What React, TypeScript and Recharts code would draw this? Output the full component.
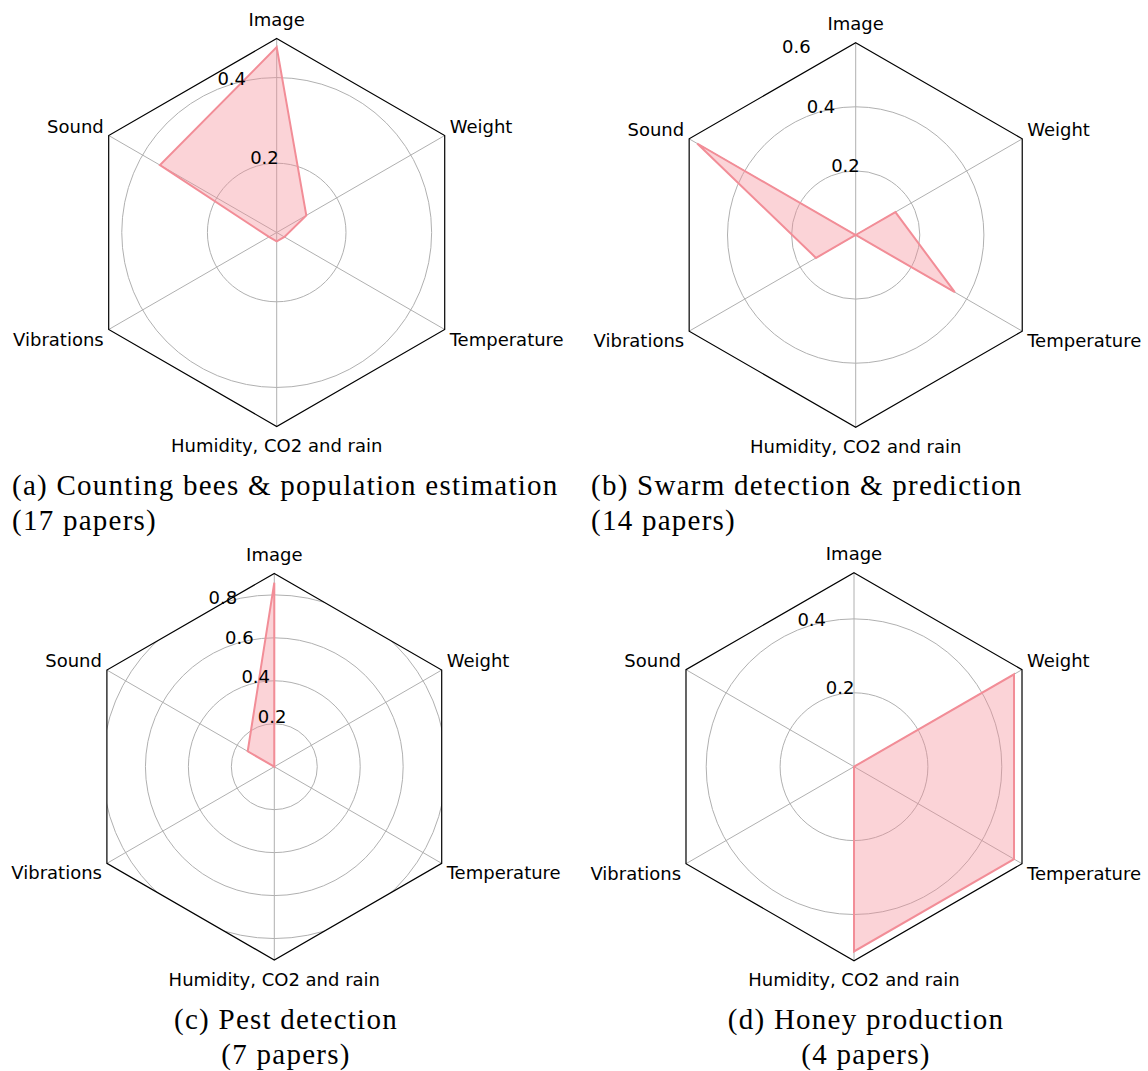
import React from 'react';
import { RadarChart, Radar, PolarGrid, PolarAngleAxis, PolarRadiusAxis } from 'recharts';

// sensor categories, clockwise from the top
const categories = ['Image', 'Weight', 'Temperature', 'Humidity, CO2 and rain', 'Vibrations', 'Sound'];

// share of papers using each sensor
const countingBees = [0.471, 0.118, 0.059, 0.059, 0.059, 0.353];
const swarmDetection = [0, 0.143, 0.357, 0, 0.143, 0.571];
const pestDetection = [0.857, 0, 0, 0, 0, 0.143];
const honeyProduction = [0, 0.5, 0.5, 0.5, 0, 0];

const ticksA = [0.2, 0.4];
const ticksB = [0.2, 0.4, 0.6];
const ticksC = [0.2, 0.4, 0.6, 0.8];
const ticksD = [0.2, 0.4];

const FONT = '"DejaVu Sans", sans-serif';
const LINE = '#f28d97';
const FILL = '#f48b96';

type PanelProps = {
  id: string;
  left: number;
  top: number;
  cx: number;
  cy: number;
  r: number;
  values: number[];
  domain: [number, number];
  ticks: number[];
};

const hexPoints = (cx: number, cy: number, r: number) =>
  [90, 30, -30, -90, -150, 150]
    .map((a) => {
      const rad = (a * Math.PI) / 180;
      return `${cx + r * Math.cos(rad)},${cy - r * Math.sin(rad)}`;
    })
    .join(' ');

const makeAngleTick = (cx: number, cy: number) => (props: any) => {
  const { x, y, payload } = props;
  const dx = x - cx;
  let anchor: 'start' | 'middle' | 'end' = 'middle';
  let tx = x;
  if (dx > 1) {
    anchor = 'start';
    tx = x - 11.5;
  } else if (dx < -1) {
    anchor = 'end';
    tx = x + 11.5;
  }
  return (
    <text x={tx} y={y} textAnchor={anchor} dominantBaseline="central" fontSize={18} fontFamily={FONT} fill="#000">
      {payload.value}
    </text>
  );
};

const RadiusTick = (props: any) => {
  const { x, y, payload } = props;
  return (
    <text x={x} y={y - 4} textAnchor="start" fontSize={18} fontFamily={FONT} fill="#000">
      {payload.value}
    </text>
  );
};

const Panel = ({ id, left, top, cx, cy, r, values, domain, ticks }: PanelProps) => {
  const data = categories.map((name, i) => ({ name, v: values[i] }));
  return (
    <div className={`panel-${id}`} style={{ position: 'absolute', left, top }}>
      <svg width={0} height={0} style={{ position: 'absolute' }}>
        <defs>
          <clipPath id={`hex-${id}`}>
            <polygon points={hexPoints(cx, cy, r)} />
          </clipPath>
        </defs>
      </svg>
      <style>{`.panel-${id} .recharts-polar-grid-concentric { clip-path: url(#hex-${id}); }`}</style>
      <RadarChart width={570} height={470} data={data} cx={cx} cy={cy} outerRadius={r} startAngle={90} endAngle={-270}>
        <PolarGrid gridType="circle" stroke="#b0b0b0" strokeWidth={1} />
        <PolarAngleAxis
          dataKey="name"
          axisLineType="polygon"
          axisLine={{ stroke: '#000', strokeWidth: 1.2 }}
          tickLine={false}
          tickSize={19}
          tick={makeAngleTick(cx, cy)}
        />
        <PolarRadiusAxis
          type="number"
          scale="linear"
          angle={112.5}
          domain={domain}
          ticks={ticks}
          tickCount={ticks.length}
          allowDecimals
          allowDataOverflow
          axisLine={false}
          tickLine={false}
          tick={RadiusTick}
        />
        <Radar dataKey="v" stroke={LINE} strokeWidth={2} fill={FILL} fillOpacity={0.38} dot={false} isAnimationActive={false} />
      </RadarChart>
    </div>
  );
};

const captionStyle: React.CSSProperties = {
  position: 'absolute',
  fontFamily: '"Liberation Serif", serif',
  fontSize: 29,
  lineHeight: '35px',
  letterSpacing: '1.25px',
  color: '#000',
  whiteSpace: 'nowrap',
};

export default function App() {
  return (
    <div style={{ position: 'absolute', left: 0, top: 0, width: 1148, height: 1071, background: '#fff', overflow: 'hidden' }}>
      <Panel id="a" left={0} top={0} cx={276.7} cy={232.5} r={194} values={countingBees} domain={[0.0382, 0.4912]} ticks={ticksA} />
      <Panel id="b" left={578} top={0} cx={277.7} cy={235} r={192.3} values={swarmDetection} domain={[0, 0.6]} ticks={ticksB} />
      <Panel id="c" left={0} top={535} cx={274.3} cy={231.7} r={193.3} values={pestDetection} domain={[0, 0.9]} ticks={ticksC} />
      <Panel id="d" left={578} top={535} cx={276} cy={231.7} r={194} values={honeyProduction} domain={[0, 0.525]} ticks={ticksD} />

      <div style={{ ...captionStyle, left: 12, top: 468 }}>
        (a) Counting bees &amp; population estimation
        <br />
        (17 papers)
      </div>
      <div style={{ ...captionStyle, left: 591, top: 468 }}>
        (b) Swarm detection &amp; prediction
        <br />
        (14 papers)
      </div>
      <div style={{ ...captionStyle, left: 86, width: 400, top: 1002, textAlign: 'center' }}>
        (c) Pest detection
        <br />
        (7 papers)
      </div>
      <div style={{ ...captionStyle, left: 666, width: 400, top: 1002, textAlign: 'center' }}>
        (d) Honey production
        <br />
        (4 papers)
      </div>
    </div>
  );
}
